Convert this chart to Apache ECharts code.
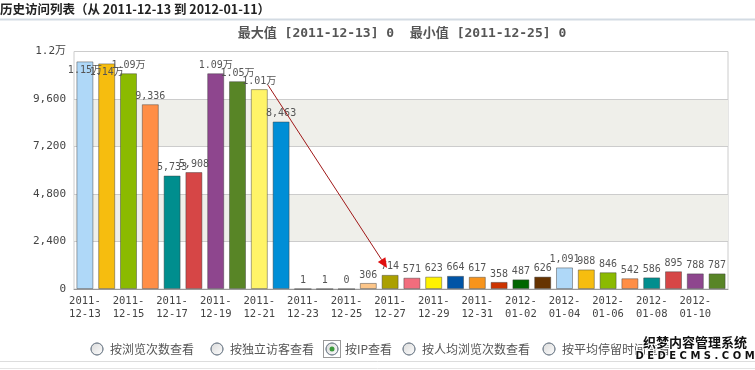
<!DOCTYPE html>
<html><head><meta charset="utf-8">
<script src="https://cdn.jsdelivr.net/npm/echarts@6/dist/echarts.min.js"></script>
<style>html,body{margin:0;padding:0;background:#fff;}#c{width:755px;height:370px;}</style>
</head><body><div id="c"></div>
<script>
const dates = ['2011-12-13','2011-12-14','2011-12-15','2011-12-16','2011-12-17','2011-12-18','2011-12-19','2011-12-20','2011-12-21','2011-12-22','2011-12-23','2011-12-24','2011-12-25','2011-12-26','2011-12-27','2011-12-28','2011-12-29','2011-12-30','2011-12-31','2012-01-01','2012-01-02','2012-01-03','2012-01-04','2012-01-05','2012-01-06','2012-01-07','2012-01-08','2012-01-09','2012-01-10','2012-01-11'];
const visits = [11500,11400,10900,9336,5733,5908,10900,10500,10100,8463,1,1,0,306,714,571,623,664,617,358,487,626,1091,988,846,542,586,895,788,787];
const barColors = ['#AFD8F8','#F6BD0F','#8BBA00','#FF8E46','#008E8E','#D64646','#8E468E','#588526','#FFF468','#008ED6','#9D080D','#A186BE','#CC6600','#FDC689','#ABA000','#F26D7D','#FFF200','#0054A6','#F7941C','#CC3300','#006600','#663300','#AFD8F8','#F6BD0F','#8BBA00','#FF8E46','#008E8E','#D64646','#8E468E','#588526'];
const yTicks = [0, 2400, 4800, 7200, 9600, 12000];
const pageTitle = '历史访问列表（从 2011-12-13 到 2012-01-11）';
const chartSubtitle = '最大值 [2011-12-13] 0  最小值 [2011-12-25] 0';
const viewOptions = ['按浏览次数查看','按独立访客查看','按IP查看','按人均浏览次数查看','按平均停留时间查看'];
const selectedView = 2;
const insideLabelIdx = [0, 1];
const arrowFrom = [8.4, 10300];
const arrowTo = [13.86, 1060];

const MONO = '"DejaVu Sans Mono","Noto Sans CJK SC",monospace';
function fmtNum(v){ return v >= 10000 ? (v/10000).toFixed(2).replace(/0$/,'') + '万' : v.toLocaleString('en-US'); }
function fmtAxis(v){ return v >= 10000 ? (v/10000) + '万' : v.toLocaleString('en-US'); }

const chart = echarts.init(document.getElementById('c'), null, {renderer:'canvas'});
const seriesData = visits.map((v,i)=>{
  const d = {value:v, itemStyle:{color:barColors[i]}};
  if (insideLabelIdx.indexOf(i) >= 0) d.label = {position:'insideTop', distance:4};
  return d;
});

const radioX = [97, 217, 332, 409, 549];
const radioG = [];
viewOptions.forEach((t,i)=>{
  radioG.push({type:'circle', shape:{cx:radioX[i], cy:349, r:6}, style:{fill:new echarts.graphic.LinearGradient(0,0,1,1,[{offset:0,color:'#d8d8d8'},{offset:1,color:'#ffffff'}]), stroke:'#7f8a96', lineWidth:1}, z:10});
  radioG.push({type:'text', x:radioX[i]+13, y:349, style:{text:t, font:'12px "Noto Sans CJK SC"', fill:'#555', verticalAlign:'middle'}, z:10});
});
radioG.push({type:'circle', shape:{cx:radioX[selectedView], cy:349, r:2.5}, style:{fill:'#3c9a3c'}, z:11});
radioG.push({type:'rect', shape:{x:radioX[selectedView]-8.5, y:340.5, width:17, height:17}, style:{fill:'none', stroke:'#333', lineWidth:1, lineDash:[1,1]}, z:11});

chart.setOption({
  animation:false,
  backgroundColor:'#fff',
  title:{text:chartSubtitle, left:397, textAlign:'center', top:22, textStyle:{fontFamily:'"DejaVu Sans Mono","Noto Sans CJK SC"', fontWeight:'bold', fontSize:13, color:'#555'}},
  grid:{left:74, right:27, top:51.5, bottom:81, show:true, borderColor:'#cccccc', borderWidth:1, backgroundColor:'transparent'},
  xAxis:{type:'category', data:dates,
    axisLine:{lineStyle:{color:'#999'}}, axisTick:{show:false},
    axisLabel:{interval:1, margin:6, color:'#444', fontFamily:MONO, fontSize:10.5, lineHeight:13,
      formatter:v=>v.slice(0,5)+'\n'+v.slice(5)}},
  yAxis:{type:'value', min:yTicks[0], max:yTicks[yTicks.length-1], interval:2400,
    axisLine:{show:false}, axisTick:{show:false},
    splitLine:{lineStyle:{color:'#cccccc'}},
    splitArea:{show:true, areaStyle:{color:['rgba(255,255,255,0)','#efefea']}},
    axisLabel:{margin:8, color:'#444', fontFamily:MONO, fontSize:11, formatter:fmtAxis}},
  series:[{type:'bar', data:seriesData, barCategoryGap:'22%',
    itemStyle:{borderColor:'rgba(60,60,60,0.45)', borderWidth:1},
    label:{show:true, position:'top', distance:3, color:'#555', fontFamily:MONO, fontSize:10, formatter:p=>fmtNum(p.value)}}],
  graphic:[
    {type:'text', x:0, y:9, style:{text:pageTitle, font:'bold 12.5px "Noto Sans CJK SC"', fill:'#222', verticalAlign:'middle'}},
    {type:'line', shape:{x1:0,y1:19.5,x2:755,y2:19.5}, style:{stroke:'#d3dbe3', lineWidth:2}},
    {type:'line', shape:{x1:0,y1:361.5,x2:755,y2:361.5}, style:{stroke:'#dddddd', lineWidth:1}},
    {type:'line', shape:{x1:0,y1:368.5,x2:755,y2:368.5}, style:{stroke:'#e4e4e4', lineWidth:1}}
  ].concat(radioG).concat([
    {type:'text', x:695, y:342, style:{text:'织梦内容管理系统', font:'bold 13px "Noto Sans CJK SC"', fill:'#111', stroke:'#fff', lineWidth:2, align:'center', verticalAlign:'middle'}, z:20},
    {type:'text', x:695, y:356, style:{text:'D E D E C M S . C O M', font:'bold 10px "DejaVu Sans"', fill:'#111', stroke:'#fff', lineWidth:2, align:'center', verticalAlign:'middle'}, z:20}
  ])
});

function px(idx, val){
  const i0 = Math.floor(idx), f = idx - i0;
  const a = chart.convertToPixel({seriesIndex:0}, [i0, val]);
  const b = chart.convertToPixel({seriesIndex:0}, [i0+1, val]);
  return [a[0] + f*(b[0]-a[0]), a[1]];
}
const s = px(arrowFrom[0], arrowFrom[1]);
const e = px(arrowTo[0], arrowTo[1]);
const dx = e[0]-s[0], dy = e[1]-s[1], L = Math.hypot(dx,dy);
const ux = dx/L, uy = dy/L;
const bx = e[0]-10*ux, by = e[1]-10*uy;
chart.setOption({graphic:chart.getOption().graphic[0].elements.concat([
  {type:'line', shape:{x1:s[0],y1:s[1],x2:bx,y2:by}, style:{stroke:'#a01818', lineWidth:1}, z:30},
  {type:'polygon', shape:{points:[[e[0],e[1]],[bx-4.5*uy,by+4.5*ux],[bx+4.5*uy,by-4.5*ux]]}, style:{fill:'#e01010'}, z:30}
])});
</script></body></html>
